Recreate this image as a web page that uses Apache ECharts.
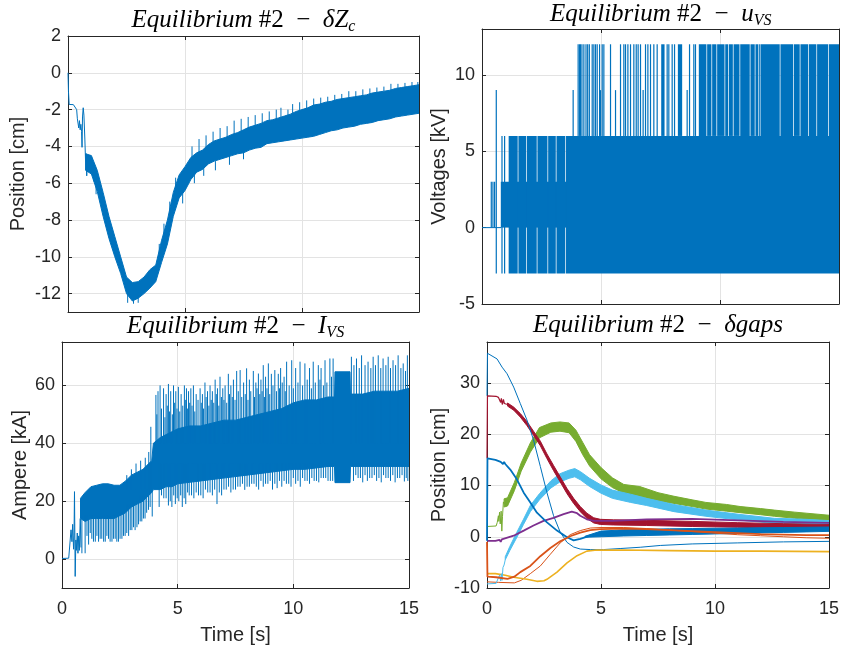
<!DOCTYPE html>
<html><head><meta charset="utf-8">
<script src="https://cdn.jsdelivr.net/npm/echarts@6/dist/echarts.min.js"></script>
<style>html,body{margin:0;padding:0;background:#fff}#c{width:849px;height:651px}</style>
</head><body><div id="c"></div><script>
// ---------------- DATA ----------------
// Panel 1: delta Zc [cm]
const dzEarlyT = [0,0.02,0.05,0.23,0.3,0.37,0.4,0.43,0.46,0.49,0.52,0.55,0.58,0.6,0.62,0.65,0.68,0.72,0.75,0.78,0.8,0.83];
const dzEarlyV = [0,-1.0,-1.72,-1.73,-1.8,-2.0,-2.5,-2.4,-3.0,-2.6,-3.1,-2.8,-3.2,-4.05,-2.4,-1.9,-2.3,-3.6,-4.8,-4.4,-5.6,-4.5];
const dzBandT = [0.75,1,1.25,1.5,1.75,2,2.25,2.5,2.75,3,3.25,3.5,3.75,4,4.25,4.5,4.75,5,5.25,5.5,5.75,6,6.25,6.5,6.75,7,7.25,7.5,7.75,8,8.25,8.5,8.75,9,9.25,9.5,9.75,10,10.25,10.5,10.75,11,11.25,11.5,11.75,12,12.25,12.5,12.75,13,13.25,13.5,13.75,14,14.25,14.5,14.75,15];
const dzBandHi = [-4.4,-4.5,-5.3,-6.5,-7.8,-8.9,-10.0,-11.1,-11.4,-11.35,-11.1,-10.7,-10.45,-9.1,-8.0,-6.5,-5.55,-5.1,-4.6,-4.35,-4.2,-3.9,-3.7,-3.6,-3.5,-3.35,-3.25,-3.1,-2.95,-2.85,-2.75,-2.6,-2.55,-2.45,-2.35,-2.25,-2.1,-2.0,-1.9,-1.75,-1.7,-1.6,-1.55,-1.45,-1.4,-1.35,-1.3,-1.25,-1.2,-1.1,-1.05,-1.0,-0.95,-0.85,-0.8,-0.75,-0.7,-0.65];
const dzBandLo = [-5.3,-5.5,-6.45,-7.8,-9.0,-10.0,-10.9,-12.0,-12.4,-12.25,-12.0,-11.7,-11.35,-10.3,-9.3,-7.8,-6.8,-6.4,-5.8,-5.4,-5.25,-4.95,-4.8,-4.7,-4.6,-4.5,-4.4,-4.35,-4.2,-4.1,-4.05,-3.85,-3.8,-3.75,-3.7,-3.65,-3.6,-3.55,-3.5,-3.45,-3.35,-3.25,-3.15,-3.1,-3.0,-2.95,-2.9,-2.8,-2.75,-2.7,-2.6,-2.55,-2.5,-2.4,-2.35,-2.3,-2.25,-2.2];
const dzSpikeT   = [1.1,1.2,2.55,2.8,3.0,3.9,4.1,4.35,4.6,4.9,5.3,5.4,5.6,5.8,5.9,6.2,6.3,6.5,6.8,6.9,7.1,7.4,7.5,7.7,8.0,8.3,8.6,8.9,9.1,9.4,9.6,9.9,10.2,10.5,10.8,11.1,11.4,11.7,12.0,12.3,12.6,12.9,13.2,13.5,13.8,14.1,14.4,14.7,14.95];
const dzSpikeFrom= [-5.4,-6.0,-11.8,-12.2,-12.1,-10.0,-9.0,-8.0,-6.5,-6.5,-4.8,-5.4,-4.5,-5.1,-4.1,-3.9,-4.8,-3.7,-3.6,-4.5,-3.4,-3.2,-4.3,-3.0,-2.9,-2.8,-2.7,-2.6,-2.5,-2.4,-2.3,-2.1,-2.0,-1.8,-1.8,-1.7,-1.6,-1.5,-1.4,-1.4,-1.3,-1.2,-1.1,-1.0,-1.0,-0.9,-0.8,-0.75,-0.7];
const dzSpikeTo  = [-5.9,-6.6,-12.5,-12.55,-12.5,-9.3,-8.2,-7.0,-5.7,-7.1,-4.0,-6.0,-3.6,-5.6,-3.4,-3.2,-5.3,-3.0,-2.9,-5.0,-2.6,-2.5,-4.7,-2.4,-2.3,-2.2,-2.1,-2.0,-1.9,-2.0,-1.7,-1.6,-1.5,-1.4,-1.35,-1.3,-1.2,-1.15,-1.0,-1.0,-0.9,-0.85,-0.8,-0.75,-0.6,-0.6,-0.55,-0.5,-0.5];

// Panel 2: u_VS [kV]
const uvsBaseT = [0,0.8];
const uvsBaseV = [0,0];
const uvsBlkT0 = [0.79,1.12,1.53,1.88,2.33,2.78,3.13,3.53,7.53,8.23,9.11,9.46,9.67,9.88,10.22,10.37,10.57,10.85,11.28,11.49,11.63,11.7,12.54,13.1,13.38,13.73,14.08,14.57];
const uvsBlkT1 = [15,1.5,1.85,2.3,2.75,3.1,3.5,15,7.67,8.41,9.43,9.64,9.85,10.19,10.34,10.54,10.82,11.25,11.46,11.6,11.67,12.51,13.07,13.35,13.7,14.05,14.54,15];
const uvsBlkLo = [0,-3,-3,-3,-3,-3,-3,-3,6,6,6,6,6,6,6,6,6,6,6,6,6,6,6,6,6,6,6,6];
const uvsBlkHi = [3,6,6,6,6,6,6,6,12,12,12,12,12,12,12,12,12,12,12,12,12,12,12,12,12,12,12,12];
const uvsSpkT  = [0.39,0.46,0.53,0.60,0.84,0.95,3.83,4.04,4.1,4.14,4.2,4.28,4.37,4.44,4.51,4.63,4.7,4.77,4.84,4.94,4.98,5.05,5.12,5.4,5.61,5.82,5.96,6.03,6.13,6.24,6.38,6.48,6.56,6.66,6.77,6.87,6.97,7.08,7.22,7.36,7.78,7.85,7.99,8.09,8.62,8.72,8.9,8.97];
const uvsSpkLo = [0,0,0,-3,-3,-3,6,6,6,6,6,6,6,6,6,6,6,6,6,6,6,6,6,6,6,6,6,6,6,6,6,6,6,6,6,6,6,6,6,6,6,6,6,6,6,6,6,6];
const uvsSpkHi = [3,3,3,9,6,6,9,12,12,12,12,12,12,12,12,12,12,12,12,12,9,12,12,12,9,12,12,12,12,12,12,12,12,12,9,12,12,12,12,12,12,12,12,12,9,12,12,12];

// Panel 3: I_VS [kA]
const ivsEarlyT = [0,0.29,0.36,0.39,0.43,0.46,0.5,0.52,0.54,0.57,0.6,0.62,0.66,0.69,0.72,0.75,0.79,0.82];
const ivsEarlyV = [0.2,0.3,0.6,10.1,6,12,3.4,8,23.3,-6,6.6,3,9,2,8,3,14,4];
const ivsBandT  = [0.8,1.0,1.25,1.5,1.75,2.0,2.25,2.5,2.75,3.0,3.25,3.5,3.75,3.88,3.95,4.25,4.5,4.75,5.0,5.5,6.0,6.5,7.0,7.5,8.0,8.5,9.0,9.5,10.0,10.5,11.0,11.5,11.78,11.8,12.45,12.47,13.0,13.5,14.0,14.5,15.0];
const ivsBandHi = [21,23,25,25.5,26,26,25.5,25.5,27,29,30,31,33,34,40,42,43,44,45,46,46,47,48,48,49,50,51,52,54,55,55,56,56,64.7,64.7,57,57,58,58,58,59];
const ivsBandLo = [14,13,14,14,14,14,14,15,16,18,19,20,22,23,24,24,25,25,26,26.5,27,27.5,28,28.5,29,29.5,30,30.5,31,31,31.5,32,32,26.4,26.4,32,32,32,32,32,32];
const ivsUpT1   = [2.8,3.0,3.2,3.4,3.6,3.75,3.84];
const ivsUpTip1 = [29,31,33,34,35,37,45.7];
const ivsUpT2   = [4.06,4.15,4.24,4.39,4.5,4.6,4.7,4.82,4.92,5.03,5.15,5.29,5.38,5.47,5.57,5.68,5.8,5.97,6.07,6.18,6.29,6.4,6.5,6.62,6.72,6.83,6.95,7.05,7.19,7.3,7.41,7.55,7.7,7.85,7.98,8.1,8.27,8.38,8.49,8.6,8.7,8.8,8.92,9.05,9.2,9.35,9.45,9.6,9.71,9.93,10.1,10.29,10.5,10.7,10.86,11.08,11.2,11.37,11.58,11.72,12.51,12.62,12.73,12.85,12.95,13.1,13.23,13.35,13.45,13.55,13.67,13.78,13.88,14.0,14.1,14.2,14.31,14.42,14.53,14.65,14.75,14.85,14.93];
const ivsUpTip2 = [56.7,58,60,59,57,60.5,58,60,58,59.5,57,60,59,58,59,60,57,59,57,61,58,60,58,62,59,63,59,60,64,60,62,65,65.3,61,65.9,62,65,61,64.1,62,67,63,67.6,64,65.3,64,66,63,68.2,68.7,66,68.2,67.6,66,68.2,67,66,68.7,69.3,69.3,69.9,67,69.3,66,70.4,67,68.2,66,69.9,67,70.4,66,69.3,67,69.9,66,68.7,67,70.4,66,67.6,65,70.4];
const ivsUpT3   = [4.1,4.3,4.45,4.55,4.65,4.77,4.87,4.97,5.09,5.22,5.33,5.43,5.52,5.62,5.74,5.88,6.02,6.12,6.23,6.35,6.45,6.56,6.67,6.78,6.89,7.0,7.12,7.24,7.36,7.48,7.62,7.77,7.92,8.04,8.16,8.32,8.43,8.55,8.65,8.75,8.86,8.98,9.12,9.27,9.4,9.52,9.65,9.82,10.0,10.2,10.4,10.6,10.78,10.95,11.15,11.3,11.45,11.65];
const ivsUpTip3 = [50,52,49,53,51,50,54,52,51,53,55,52,54,53,51,55,54,52,56,53,55,54,57,53,56,55,54,57,56,55,58,56,57,55,58,56,59,57,58,56,59,57,60,58,59,61,58,60,59,61,60,62,59,61,62,60,61,63];
const ivsDnT1   = [0.86,1.0,1.08,1.15,1.22,1.29,1.36,1.44,1.51,1.58,1.65,1.72,1.8,1.87,1.94,2.01,2.08,2.16,2.23,2.3,2.37,2.44,2.51,2.59,2.66,2.73,2.8,2.88,2.95,3.02,3.09,3.16,3.24,3.31,3.38,3.45,3.52,3.59,3.66,3.74,3.81];
const ivsDnTip1 = [2,2,8,5,9,7,6,6,8,6,7,7,6,6,8,7,6,6,7,7,6,6,7,7,8,8,9,8,10,10,11,10,11,12,13,13,14,14,16,17,18];
const ivsDnBase1= [15,15,15,15,15,15,15,15,15,15,15,15,15,15,15,15,15,15,15,15,15,15,16,16,16,16,19,19,19,19,20,20,20,20,22,22,22,22,24,24,24];
const ivsDnT2   = [3.9,4.2,4.4,4.6,4.75,4.9,5.05,5.2,5.35,5.5,5.7,5.9,6.1,6.3,6.5,6.7,6.9,7.1,7.3,7.5,7.7,7.9,8.1,8.3,8.5,8.7,8.9,9.1,9.3,9.5,9.7,9.9,10.1,10.3,10.5,10.7,10.9,11.1,11.3,11.5,11.7,12.6,12.8,13.0,13.2,13.4,13.6,13.8,14.0,14.2,14.4,14.6,14.8,14.95];
const ivsDnTip2 = [14.7,18,21,18.5,18,19,20,18,19,22,21,22,21,23,22,19,22,24,23,24,25,23.9,25,26,24,25,26,24,24.5,25,26,25,26,25,27,26,27,26.5,28,27,27,27,28,26.5,27,28,27,26.5,28,27,26.5,28,26.8,27];
const ivsDnT3   = [4.3,4.5,4.68,4.83,4.98,5.13,5.28,5.43,5.6,5.8,6.0,6.2,6.4,6.6,6.8,7.0,7.2,7.4,7.6,7.8,8.0,8.2,8.4,8.6,8.8,9.0,9.2,9.4,9.6,9.8,10.0,10.2,10.4,10.6,10.8,11.0,11.2,11.4,11.6,12.7,12.9,13.1,13.3,13.5,13.7,13.9,14.1,14.3,14.5,14.7,14.88];
const ivsDnTip3 = [22,21,20,22,21,22,21,23,22,23,22,24,23,24,23,24,25,24,25,26,25,26,25,27,26,27,26,27,27,26,28,27,28,27,28,27,28,28,27,29,28,29,28,29,28,29,28,29,28,29,28];

// Panel 4: delta gaps [cm]
const gThinBlueT = [0,0.02,0.44,0.66,0.88,1.17,1.46,1.75,2.04,2.34,2.63,2.92,3.21,3.51,3.8,4.09,4.53,5.11,5.84,6.72,7.6,9,11,13,15];
const gThinBlueV = [27.5,35.8,34.7,33.1,31.8,29.2,26,22.8,18.9,13.7,8.6,4.1,0.9,-1.1,-2.0,-2.4,-2.5,-2.5,-2.3,-2.05,-1.7,-1.4,-1.2,-1.0,-0.9];
const gThinOrT = [0,0.5,1.2,1.5,1.9,2.34,2.78,3.21,3.65,4.09,4.53,5,6,7,8,9,10,11,12,13,14,15];
const gThinOrV = [-8.8,-8.9,-9.0,-8.5,-7.2,-5.7,-3.4,-1.2,0.4,1.2,1.7,1.8,1.8,1.6,1.3,1.0,0.7,0.4,0.2,0.0,-0.2,-0.3];
const gYellowT = [0,0.37,0.8,1.17,1.75,2.19,2.5,2.63,3.07,3.51,3.95,4.38,4.82,6,8,10,12,15];
const gYellowV = [-7.2,-7.2,-7.5,-7.9,-8.3,-8.7,-8.6,-8.3,-6.9,-5.1,-3.7,-2.8,-2.6,-2.6,-2.7,-2.8,-2.8,-2.9];
const gPurpleT = [0,0.37,0.55,0.6,0.65,0.73,1.17,1.61,2.04,2.48,2.92,3.36,3.72,3.95,4.09,4.38,4.68,5.55,7,9,11,13,15];
const gPurpleV = [-0.8,-0.8,-0.6,-1.0,-0.5,-0.5,0.2,1.2,2.2,3.1,3.7,4.4,4.9,4.6,4.1,3.4,3.1,3.1,3.4,3.5,3.2,2.9,2.7];
const gGreenEarlyT = [0,0.4,0.45,0.5,0.52,0.55,0.58,0.62,0.65,0.68,0.72,0.75];
const gGreenEarlyV = [2,2.1,2.8,4.1,3,4.8,2.5,5,1.1,4,6.8,6.4];
const gGreenT  = [0.75,0.9,1.2,1.5,1.9,2.3,2.8,3.2,3.6,3.9,4.2,4.5,5.0,5.5,6.0,6.7,7.5,8.2,9.0,9.6,10.5,11.1,12.0,12.6,13.5,14.0,15.0];
const gGreenLo = [5.8,6.0,9.0,12.8,16.5,19.3,20.4,20.6,20.3,18.6,16.0,13.8,11.3,9.6,8.5,7.9,7.0,6.5,5.9,5.4,5.0,4.7,4.3,4.0,3.6,3.4,3.1];
const gGreenHi = [7.4,7.6,10.6,14.4,18.3,21.3,22.2,22.4,22.2,20.8,18.4,16.0,13.5,11.5,10.2,9.8,8.6,7.9,7.2,6.7,6.3,5.9,5.5,5.2,4.8,4.6,4.2];
const gLBlueEarlyT = [0,0.4,0.5,0.55,0.6,0.63,0.66,0.7,0.75,0.8];
const gLBlueEarlyV = [-9.2,-9.1,-8,-7.5,-8.6,-7.2,-8.5,-6,-5.5,-4.5];
const gLBlueT  = [0.8,1.0,1.3,1.6,1.9,2.3,2.8,3.2,3.6,3.85,4.1,4.5,5.0,5.5,6.3,7.0,8.2,9.6,11.1,12.6,14.0,15.0];
const gLBlueLo = [-4.5,-2.7,-0.2,2.4,4.9,7.2,9.5,10.7,11.4,11.7,11.1,9.8,8.5,7.5,6.7,6.1,4.9,4.0,3.25,2.6,2.4,2.25];
const gLBlueHi = [-3.9,-1.9,0.8,3.4,6.1,8.4,10.9,12.3,13.0,13.3,12.7,11.4,10.1,9.1,8.3,7.5,6.3,5.2,4.35,3.6,3.4,3.15];
const gRedEarlyT = [0,0.02,0.4,0.5,0.55,0.6,0.63,0.67,0.72,0.76,0.8,0.9];
const gRedEarlyV = [15.3,27.5,27.4,27.2,27.0,26.2,27.0,25.8,26.8,26.0,26.3,25.8];
const gRedT  = [0.9,1.17,1.46,1.75,2.04,2.34,2.63,2.92,3.21,3.51,3.8,4.09,4.38,4.68,4.97,5.55,7,9,11,13,15];
const gRedLo = [25.5,24.7,23.35,21.7,19.8,17.75,15.25,12.9,10.7,8.4,6.5,4.9,3.6,2.7,2.4,2.3,2.2,2.0,1.85,1.65,1.6];
const gRedHi = [26.1,25.3,24.05,22.5,20.6,18.65,16.15,13.9,11.7,9.4,7.5,5.9,4.6,3.7,3.4,3.3,3.2,3.0,2.75,2.55,2.4];
const gBlueT = [0,0.02,0.37,0.6,0.65,0.7,0.75,0.8,1.02,1.31,1.61,1.9,2.19,2.63,3.07,3.51,3.8,4.09,4.53,4.97];
const gBlueV = [-0.8,15.3,15.0,14.6,14.8,14.2,14.6,14.2,13.1,11.2,8.6,6.7,4.7,2.8,1.2,-0.1,-0.7,-0.4,0.2,0.5];
const gBlueBandT  = [4.3,5,6,7,8,9,10,11,12,13,14,15];
const gBlueBandLo = [-0.1,0.0,0.15,0.25,0.35,0.45,0.55,0.65,0.75,0.85,0.95,1.05];
const gBlueBandHi = [0.1,1.1,1.35,1.45,1.55,1.6,1.65,1.7,1.75,1.8,1.85,1.9];
const gThickOrT = [0,0.02,0.4,0.9,1.2,1.46,1.9,2.34,2.78,3.21,3.65,4.09,4.53,4.97,6,7,8,9,10,11,12,13,14,15];
const gThickOrV = [-1,-7.8,-7.9,-8.2,-7.8,-6.9,-5.7,-3.8,-2.2,-0.9,0.1,0.8,1.3,1.5,1.6,1.5,1.3,1.1,0.9,0.7,0.5,0.4,0.3,0.3];

// Axis ticks / labels
const xTicks = [0,5,10,15];
const yTicks = [[-12,-10,-8,-6,-4,-2,0,2],[-5,0,5,10],[0,20,40,60],[-10,0,10,20,30]];
const yMin = [-13,-5,-10,-10], yMax = [2,13,75,38];
const yNames = ['Position [cm]','Voltages [kV]','Ampere [kA]','Position [cm]'];
const titles = [
  '{it|Equilibrium}{rm| #2  −  }{it|δZ}{sub|c}',
  '{it|Equilibrium}{rm| #2  −  }{it|u}{sub|VS}',
  '{it|Equilibrium}{rm| #2  −  }{it|I}{sub|VS}',
  '{it|Equilibrium}{rm| #2  −  }{it|δgaps}'
];

// ---------------- LAYOUT / STYLE ----------------
const grids = [
  {left:68, top:36, width:351, height:276},
  {left:482, top:29, width:357, height:275},
  {left:62, top:342, width:347, height:246},
  {left:487, top:342, width:342, height:246}
];
const yNameGap = [40,33,32,38];
const titlePos = [[243.5,20],[660.7,14],[235.5,326],[658,325]];
const BLUE='#0072BD', ORANGE='#D95319', YELLOW='#EDB120', PURPLE='#7E2F8E', GREEN='#77AC30', LBLUE='#4DBEEE', DRED='#A2142F';
const AXC='#262626', GRIDC='#e3e3e3';
const SANS='"Liberation Sans", Arial, Helvetica, sans-serif';
const SERIF='"Liberation Serif", "Times New Roman", serif';
const RICH = {
  it:{fontFamily:SERIF, fontStyle:'italic', fontWeight:'normal', fontSize:25, color:'#000', lineHeight:30},
  rm:{fontFamily:SERIF, fontWeight:'normal', fontSize:25, color:'#000', lineHeight:30},
  sub:{fontFamily:SERIF, fontStyle:'italic', fontWeight:'normal', fontSize:16, color:'#000', lineHeight:10, verticalAlign:'bottom'}
};

function zip(T,V){ return T.map((t,i)=>[t,V[i]]); }
function lineS(g,T,V,color,w){
  return {type:'line', xAxisIndex:2*g, yAxisIndex:2*g, data:zip(T,V), showSymbol:false, symbol:'none',
    lineStyle:{color:color, width:w}, itemStyle:{color:color}, silent:true, animation:false};
}
function bandS(g,T,LO,HI,color){
  return {type:'custom', xAxisIndex:2*g, yAxisIndex:2*g, data:[[T[0],LO[0]]], encode:{x:0,y:1}, silent:true, animation:false, clip:true,
    renderItem:function(p,api){
      const pts=[];
      for(let i=0;i<T.length;i++) pts.push(api.coord([T[i],HI[i]]));
      for(let i=T.length-1;i>=0;i--) pts.push(api.coord([T[i],LO[i]]));
      return {type:'polygon', shape:{points:pts}, style:{fill:color, stroke:color, lineWidth:1}};
    }};
}
function spikeS(g,T,A,B,color,w){
  return {type:'custom', xAxisIndex:2*g, yAxisIndex:2*g,
    data:T.map((t,i)=>[t, Array.isArray(A)?A[i]:A, Array.isArray(B)?B[i]:B]), encode:{x:0,y:[1,2]}, silent:true, animation:false, clip:true,
    renderItem:function(p,api){
      const a=api.coord([api.value(0),api.value(1)]), b=api.coord([api.value(0),api.value(2)]);
      return {type:'line', shape:{x1:a[0],y1:a[1],x2:b[0],y2:b[1]}, style:{stroke:color, lineWidth:w}};
    }};
}
function blockS(g,T0,T1,LO,HI,color){
  return {type:'custom', xAxisIndex:2*g, yAxisIndex:2*g,
    data:T0.map((t,i)=>[t,T1[i],LO[i],HI[i]]), encode:{x:[0,1],y:[2,3]}, silent:true, animation:false, clip:true,
    renderItem:function(p,api){
      const a=api.coord([api.value(0),api.value(3)]), b=api.coord([api.value(1),api.value(2)]);
      let x=a[0], w=b[0]-a[0];
      if(w<1.2){ x=(a[0]+b[0])/2-0.6; w=1.2; }
      return {type:'rect', shape:{x:x, y:a[1], width:w, height:b[1]-a[1]}, style:{fill:color}};
    }};
}

const xAxis=[], yAxis=[];
for(let g=0; g<4; g++){
  const showX = g>=2;
  const line = {show:true, onZero:false, lineStyle:{color:AXC, width:1}};
  xAxis.push({type:'value', gridIndex:g, position:'bottom', min:0, max:15, interval:5,
    axisLine:line, axisTick:{show:true, inside:true, length:4, customValues:xTicks, lineStyle:{color:AXC,width:1}},
    axisLabel:{show:showX, customValues:xTicks, color:AXC, fontSize:18, fontFamily:SANS, margin:12},
    splitLine:{show:true, lineStyle:{color:GRIDC, width:1}},
    name: showX?'Time [s]':'', nameLocation:'middle', nameGap:37,
    nameTextStyle:{color:AXC, fontSize:20, fontFamily:SANS}});
  xAxis.push({type:'value', gridIndex:g, position:'top', min:0, max:15, interval:5,
    axisLine:line, axisTick:{show:true, inside:true, length:4, customValues:xTicks, lineStyle:{color:AXC,width:1}},
    axisLabel:{show:false}, splitLine:{show:false}});
  yAxis.push({type:'value', gridIndex:g, position:'left', min:yMin[g], max:yMax[g],
    axisLine:line, axisTick:{show:true, inside:true, length:4, customValues:yTicks[g], lineStyle:{color:AXC,width:1}},
    axisLabel:{show:true, customValues:yTicks[g], color:AXC, fontSize:18, fontFamily:SANS, margin:7},
    splitLine:{show:true, lineStyle:{color:GRIDC, width:1}},
    name:yNames[g], nameLocation:'middle', nameGap:yNameGap[g], nameRotate:90,
    nameTextStyle:{color:AXC, fontSize:20, fontFamily:SANS}});
  yAxis.push({type:'value', gridIndex:g, position:'right', min:yMin[g], max:yMax[g],
    axisLine:line, axisTick:{show:true, inside:true, length:4, customValues:yTicks[g], lineStyle:{color:AXC,width:1}},
    axisLabel:{show:false}, splitLine:{show:false}});
}

const series = [
  // panel 1
  lineS(0, dzEarlyT, dzEarlyV, BLUE, 1),
  bandS(0, dzBandT, dzBandLo, dzBandHi, BLUE),
  spikeS(0, dzSpikeT, dzSpikeFrom, dzSpikeTo, BLUE, 1),
  // panel 2
  lineS(1, uvsBaseT, uvsBaseV, BLUE, 1),
  blockS(1, uvsBlkT0, uvsBlkT1, uvsBlkLo, uvsBlkHi, BLUE),
  blockS(1, uvsSpkT, uvsSpkT, uvsSpkLo, uvsSpkHi, BLUE),
  // panel 3
  lineS(2, ivsEarlyT, ivsEarlyV, BLUE, 1),
  bandS(2, ivsBandT, ivsBandLo, ivsBandHi, BLUE),
  spikeS(2, ivsUpT1, 24, ivsUpTip1, BLUE, 1),
  spikeS(2, ivsUpT2, 40, ivsUpTip2, BLUE, 1),
  spikeS(2, ivsUpT3, 40, ivsUpTip3, BLUE, 1),
  spikeS(2, ivsDnT1, ivsDnBase1, ivsDnTip1, BLUE, 1),
  spikeS(2, ivsDnT2, 33, ivsDnTip2, BLUE, 1),
  spikeS(2, ivsDnT3, 33, ivsDnTip3, BLUE, 1),
  // panel 4
  lineS(3, gThinBlueT, gThinBlueV, BLUE, 1),
  lineS(3, gThinOrT, gThinOrV, ORANGE, 1),
  lineS(3, gYellowT, gYellowV, YELLOW, 1.6),
  lineS(3, gPurpleT, gPurpleV, PURPLE, 1.8),
  lineS(3, gGreenEarlyT, gGreenEarlyV, GREEN, 1),
  bandS(3, gGreenT, gGreenLo, gGreenHi, GREEN),
  lineS(3, gLBlueEarlyT, gLBlueEarlyV, LBLUE, 1),
  bandS(3, gLBlueT, gLBlueLo, gLBlueHi, LBLUE),
  lineS(3, gRedEarlyT, gRedEarlyV, DRED, 1.2),
  bandS(3, gRedT, gRedLo, gRedHi, DRED),
  lineS(3, gBlueT, gBlueV, BLUE, 1.8),
  bandS(3, gBlueBandT, gBlueBandLo, gBlueBandHi, BLUE),
  lineS(3, gThickOrT, gThickOrV, ORANGE, 1.8)
];

const chart = echarts.init(document.getElementById('c'), null, {renderer:'canvas'});
chart.setOption({
  animation:false,
  backgroundColor:'#ffffff',
  title: titles.map((t,i)=>({text:t, left:titlePos[i][0], top:titlePos[i][1], padding:0,
    textAlign:'center', textVerticalAlign:'middle',
    textStyle:{rich:RICH, fontFamily:SERIF, fontSize:25, fontWeight:'normal'}})),
  grid: grids.map(g=>Object.assign({containLabel:false}, g)),
  xAxis: xAxis,
  yAxis: yAxis,
  series: series
});
</script></body></html>
